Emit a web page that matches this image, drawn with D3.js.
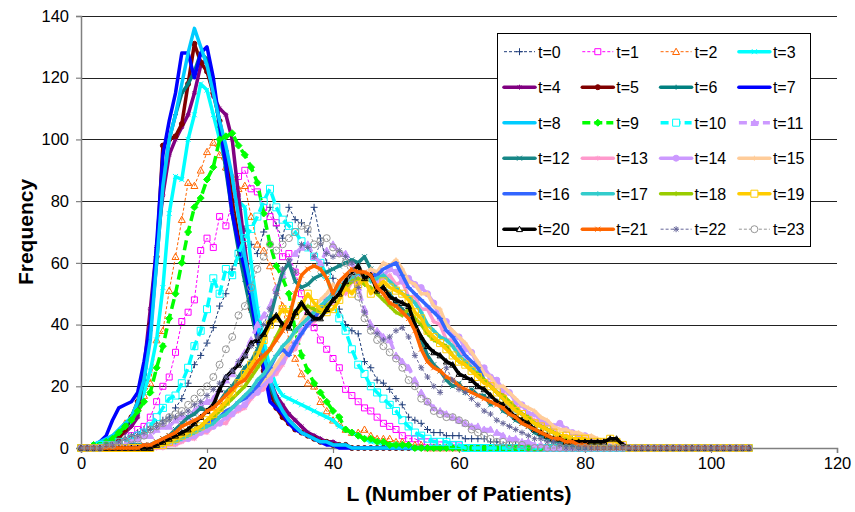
<!DOCTYPE html>
<html>
<head>
<meta charset="utf-8">
<script src="https://cdnjs.cloudflare.com/ajax/libs/d3/7.8.5/d3.min.js"></script>
<style>
body { margin:0; background:#fff; }
svg { display:block; font-family: Arial, "Liberation Sans", sans-serif; }
</style>
</head>
<body>
<div id="chart"></div>
<script>
// Frequency of L (number of patients), one array per t, starting at L = 0
var t0 = [0,0,0,1,1,1,2,3,4,5,6,7,8,9,10,13,16,21,27,30,34,39,46,50,58,64,71,66,63,70,78,72,68,78,74,73,70,78,68,60,55,45,40,38,37,28,26,22,21,19,16,14,10,9,8,6,5,5,4,4,4,3,3,3,3,2,2,1,1,1,1];
var t1 = [0,0,0,0,1,1,2,2,4,6,7,10,15,20,23,31,41,44,48,64,68,65,75,72,80,88,90,84,83,78,75,73,62,63,57,50,43,39,35,32,29,26,19,17,15,13,12,10,8,7,6,4,3,3,2,2,2,1,1,1,1];
var t2 = [0,0,0,1,1,2,4,8,10,13,17,21,35,38,51,62,74,86,85,90,96,99,95,91,88,84,85,75,66,64,59,52,46,35,29,24,21,20,15,12,9,8,6,5,5,6,4,3,3,3,2,2,1,1,1];
var t3 = [0,0,1,1,2,3,4,6,8,12,18,25,35,52,76,88,87,100,108,118,116,108,100,92,85,80,78,60,45,35,26,20,17,16,15,14,13,12,11,10,9,7,6,5,4,3,2,2,1,1,1];
var t4 = [0,0,1,1,2,3,4,5,7,10,26,45,65,82,95,100,104,108,115,124,126,114,110,108,100,82,65,50,40,30,22,17,14,11,9,7,5,4,3,2,2,1,1];
var t5 = [0,0,0,1,1,2,3,6,10,15,24,40,62,98,100,101,105,118,131,125,122,115,106,96,80,68,56,45,35,25,18,13,10,8,6,5,4,3,2,2,1,1,1];
var t6 = [0,0,1,1,2,3,5,7,10,14,22,38,60,85,100,108,115,118,122,128,126,118,104,90,76,64,54,44,35,27,20,15,12,9,7,5,4,3,2,2,1,1,1];
var t7 = [0,0,1,2,4,9,13,14,15,18,28,40,66,95,106,115,128,128,120,128,130,120,105,92,76,66,58,48,36,26,15,13,11,8,6,5,4,3,2,1,1];
var t8 = [0,0,1,2,3,4,6,8,10,15,22,35,60,85,100,108,118,128,136,130,124,115,106,98,88,75,62,52,40,30,22,16,12,9,7,5,4,3,2,2,1,1,1];
var t9 = [0,0,1,1,2,3,5,7,9,12,15,18,26,33,42,50,60,70,78,81,87,91,100,101,102,98,95,91,86,76,66,59,55,50,38,30,25,21,18,15,12,10,6,5,4,3,3,2,2,1,1,1,1];
var t10 = [0,0,0,1,1,1,2,2,3,4,5,7,10,13,16,17,21,26,33,38,45,55,50,58,56,63,68,71,75,80,84,78,74,72,70,67,65,62,60,56,48,42,38,32,27,24,20,18,16,14,12,9,7,5,4,3,2,2,2,1,1];
var t11 = [0,0,0,0,0,1,1,1,2,3,4,4,6,7,7,9,10,10,12,14,15,16,19,22,24,28,31,35,40,43,46,52,56,60,63,65,66,62,60,64,66,63,63,60,52,45,40,38,36,35,30,28,26,22,18,15,13,12,11,10,9,8,7,7,6,6,5,4,3,3,2,2,1,1];
var t12 = [0,0,0,0,0,0,0,0,1,1,1,1,2,3,4,6,8,10,11,13,12,14,15,18,20,23,26,28,32,36,42,50,57,60,54,52,53,55,56,57,58,59,60,61,60,62,58,55,52,50,47,45,43,40,35,30,27,25,22,20,21,18,19,17,17,14,15,12,11,9,8,7,5,4,3,2,2,1,1];
var t13 = [0,0,0,0,0,0,0,0,0,0,0,0,0,0,1,1,2,3,3,5,5,7,8,8,11,12,13,16,18,19,23,24,27,31,32,37,40,41,45,47,47,51,50,54,53,56,57,54,55,56,53,54,49,49,45,45,41,40,35,35,31,30,26,26,22,21,18,18,14,14,11,10,9,8,6,6,4,4,3,2,2,1,1];
var t14 = [0,0,0,0,0,0,0,0,0,0,0,0,1,1,2,2,3,3,4,5,6,7,8,10,11,13,14,17,18,21,22,26,28,32,34,38,40,44,45,48,50,53,53,55,56,54,57,54,56,58,57,54,55,53,52,50,47,42,41,37,36,32,31,27,26,23,22,19,18,15,14,11,11,9,8,7,8,6,5,4,4,3,2,2,2,1,1];
var t15 = [0,0,0,0,0,0,0,0,0,0,0,0,1,1,2,2,3,4,5,6,7,8,10,12,13,15,17,18,20,22,24,27,30,34,38,41,44,46,48,50,53,52,56,55,58,55,58,57,60,59,61,58,54,53,50,50,46,45,40,38,36,34,31,28,24,23,20,20,18,16,14,13,12,10,9,7,6,6,5,5,4,4,3,2,2,1];
var t16 = [0,0,0,0,0,0,0,0,0,0,1,1,2,2,3,3,4,5,6,7,8,9,10,12,13,15,16,18,20,23,26,30,32,30,34,37,40,42,45,48,50,52,54,55,57,55,56,56,58,59,60,56,52,50,48,46,44,42,38,36,33,30,28,26,22,20,18,16,14,12,11,9,8,7,6,5,4,3,3,2,2,1,1];
var t17 = [0,0,0,0,0,0,0,0,0,0,0,0,1,1,2,2,3,4,5,6,7,8,10,11,13,15,17,19,22,24,27,30,33,35,38,40,42,44,46,48,50,52,54,55,57,56,54,55,56,54,52,50,49,47,44,40,38,36,35,33,30,28,26,24,22,20,18,16,14,12,11,9,8,7,6,5,4,3,3,2,2,1,1];
var t18 = [0,0,0,0,0,0,0,0,0,0,0,0,1,1,2,3,4,5,6,7,9,10,12,14,16,18,20,23,26,29,32,36,40,42,43,45,46,45,44,46,48,50,52,54,55,53,52,50,48,46,44,43,45,42,40,37,35,34,33,30,28,27,25,24,22,20,18,17,15,13,11,10,8,7,6,5,4,3,3,2,2,1,1];
var t19 = [0,0,0,0,0,0,0,0,0,0,0,0,1,1,2,3,4,5,6,7,9,11,13,15,18,21,24,27,30,35,40,42,45,44,43,46,50,47,45,44,45,48,52,50,53,55,50,52,54,52,51,50,48,44,42,38,36,34,32,30,28,27,25,23,21,20,18,16,14,12,11,9,8,7,6,5,4,4,3,3,3,2,2,2,3,2,1];
var t20 = [0,0,0,0,0,0,0,0,0,0,0,0,1,2,3,4,5,6,8,10,12,14,19,23,25,27,30,34,35,37,41,43,40,39,44,47,44,42,42,45,48,50,54,57,59,55,56,51,52,49,48,47,46,40,36,33,31,30,28,27,24,23,22,20,19,17,15,14,12,10,9,8,6,5,4,3,3,2,2,2,2,2,2,2,3,3,1];
var t21 = [0,0,0,0,0,0,0,0,0,0,1,1,2,3,4,5,7,8,9,10,12,13,15,17,19,21,22,25,28,30,32,35,38,42,50,56,58,59,58,55,50,54,56,58,57,57,56,52,50,47,46,44,42,38,32,28,26,25,23,22,20,19,18,17,16,15,14,13,11,10,8,7,6,5,4,3,3,2,2,1,1];
var t22 = [0,0,0,0,1,1,2,3,4,4,5,6,7,8,9,10,11,12,14,15,17,19,21,23,25,28,30,33,36,40,45,50,58,61,57,66,65,62,66,63,62,64,62,60,52,44,39,37,35,36,38,39,36,30,26,23,20,18,26,22,19,18,16,14,12,11,9,8,7,6,5,4,3,3,2,2,1];
var t23 = [0,0,0,0,1,1,2,2,3,3,4,6,7,8,10,11,12,14,16,18,20,23,27,32,36,43,46,52,58,62,66,64,66,68,70,72,71,66,67,68,65,63,60,55,49,42,38,35,33,31,29,26,22,20,16,15,12,11,10,10,9,8,6,5,4,3,2,2,1,1,1];

var seriesNames = ["t=0","t=1","t=2","t=3","t=4","t=5","t=6","t=7","t=8","t=9","t=10","t=11",
                   "t=12","t=13","t=14","t=15","t=16","t=17","t=18","t=19","t=20","t=21","t=22","t=23"];
var xTicks = [0,20,40,60,80,100,120];
var yTicks = [0,20,40,60,80,100,120,140];
var lastL = 106; // every series runs on at zero up to here

// line look per series
var styles = [
  {c:"#1f3d7a", w:1,   dash:"3,2",  m:"plus",     r:3.5},
  {c:"#ff00ff", w:1,   dash:"3,2",  m:"square",   r:3},
  {c:"#ff6600", w:1,   dash:"3,2",  m:"triangle", r:3.5},
  {c:"#00ffff", w:3.5, m:"x",        r:2.5},
  {c:"#800080", w:3.5, m:"star",     r:2.5},
  {c:"#800000", w:3.5, m:"dot",      r:2.5},
  {c:"#008080", w:3.5, m:"plus",     r:2.5},
  {c:"#0000ff", w:3.5},
  {c:"#00ccff", w:3.5},
  {c:"#00ff00", w:3.5, dash:"10,5", m:"diamond",  r:3.5},
  {c:"#00ffff", w:3.5, dash:"10,5", m:"square",   r:3.5},
  {c:"#cc99ff", w:3.5, dash:"10,5", m:"trifill",  r:3.5},
  {c:"#178787", w:3.5, m:"x",        r:2.5},
  {c:"#ff99cc", w:3.5, m:"star",     r:2.5},
  {c:"#cc99ff", w:3.5, m:"dot",      r:3},
  {c:"#ffcc99", w:3.5, m:"plus",     r:2.5},
  {c:"#3366ff", w:3.5, m:"dash",     r:3},
  {c:"#33cccc", w:3.5, m:"plus",     r:2.5},
  {c:"#99cc00", w:3.5, m:"plus",     r:2.5},
  {c:"#ffcc00", w:3.5, m:"square",   r:3.5},
  {c:"#000000", w:3.5, m:"triangle", r:3},
  {c:"#ff6600", w:3.5, m:"x",        r:2.5},
  {c:"#666699", w:1,   dash:"3,2",  m:"star",     r:3},
  {c:"#969696", w:1,   dash:"3,2",  m:"circle",   r:3.5}
];

var raw = [t0,t1,t2,t3,t4,t5,t6,t7,t8,t9,t10,t11,t12,t13,t14,t15,t16,t17,t18,t19,t20,t21,t22,t23];
var series = raw.map(function(arr, i){
  var pts = [];
  for (var L = 0; L <= lastL; L++) pts.push({x: L, y: L < arr.length ? arr[L] : 0});
  return {name: seriesNames[i], st: styles[i], pts: pts};
});

var W = 855, H = 512;
var margin = {top: 16, right: 18, bottom: 64, left: 81};
var width = W - margin.left - margin.right,
    height = H - margin.top - margin.bottom;

var x = d3.scaleLinear().domain([0,120]).range([0, width]);
var y = d3.scaleLinear().domain([0,140]).range([height, 0]);

var svg = d3.select("#chart").append("svg")
  .attr("width", W).attr("height", H);

var g = svg.append("g")
  .attr("transform", "translate(" + margin.left + "," + margin.top + ")");

// gridlines
g.append("g").selectAll("line")
  .data(yTicks.filter(function(d){ return d > 0; }))
  .enter().append("line")
  .attr("x1", 0).attr("x2", width)
  .attr("y1", function(d){ return Math.round(y(d)) + 0.5; })
  .attr("y2", function(d){ return Math.round(y(d)) + 0.5; })
  .attr("stroke", "#222").attr("stroke-width", 1);

// axes
var xAxis = d3.axisBottom(x).tickValues(xTicks).tickSize(5).tickPadding(4);
var yAxis = d3.axisLeft(y).tickValues(yTicks).tickSize(5).tickPadding(7);

var gx = g.append("g")
  .attr("transform", "translate(0," + height + ")")
  .call(xAxis);
var gy = g.append("g").call(yAxis);

[gx, gy].forEach(function(a){
  a.select(".domain").attr("stroke", "#808080").attr("stroke-width", 1.5);
  a.selectAll(".tick line").attr("stroke", "#808080").attr("stroke-width", 1.2);
  a.selectAll("text").attr("fill", "#000").style("font-size", "16.5px")
    .style("font-family", "Arial, 'Liberation Sans', sans-serif");
});

// marker shapes
function markerPath(type, r) {
  switch (type) {
    case "plus": return "M" + (-r) + ",0H" + r + "M0," + (-r) + "V" + r;
    case "x": return "M" + (-r) + "," + (-r) + "L" + r + "," + r + "M" + (-r) + "," + r + "L" + r + "," + (-r);
    case "star": return markerPath("plus", r) + markerPath("x", r * 0.75);
    case "dash": return "M" + (-r) + ",0H" + r;
    case "square": return "M" + (-r) + "," + (-r) + "H" + r + "V" + r + "H" + (-r) + "Z";
    case "triangle":
    case "trifill": return "M0," + (-r) + "L" + r + "," + (r * 0.8) + "H" + (-r) + "Z";
    case "diamond": return "M0," + (-r) + "L" + r + ",0L0," + r + "L" + (-r) + ",0Z";
    case "circle":
    case "dot": return "M" + r + ",0A" + r + "," + r + " 0 1,1 " + (-r) + ",0A" + r + "," + r + " 0 1,1 " + r + ",0Z";
  }
  return "";
}
function markerFill(st) {
  if (st.m === "diamond" || st.m === "dot" || st.m === "trifill") return st.c;
  return "none";
}

var line = d3.line()
  .x(function(d){ return x(d.x); })
  .y(function(d){ return y(d.y); });

var plot = g.append("g");

series.forEach(function(s){
  var sg = plot.append("g");
  sg.append("path")
    .datum(s.pts)
    .attr("d", line)
    .attr("fill", "none")
    .attr("stroke", s.st.c)
    .attr("stroke-width", s.st.w)
    .attr("stroke-dasharray", s.st.dash || null)
    .attr("stroke-linejoin", "round")
    .attr("stroke-linecap", s.st.dash ? "butt" : "round");
  if (s.st.m) {
    sg.selectAll("path.mk")
      .data(s.pts)
      .enter().append("path")
      .attr("class", "mk")
      .attr("transform", function(d){ return "translate(" + x(d.x) + "," + y(d.y) + ")"; })
      .attr("d", markerPath(s.st.m, s.st.r))
      .attr("fill", markerFill(s.st))
      .attr("stroke", s.st.c)
      .attr("stroke-width", 1);
  }
});

// axis titles
svg.append("text")
  .attr("x", margin.left + x(60)).attr("y", 501)
  .attr("text-anchor", "middle")
  .style("font-size", "21px").style("font-weight", "bold")
  .text("L (Number of Patients)");

svg.append("text")
  .attr("transform", "translate(33," + (margin.top + y(70)) + ") rotate(-90)")
  .attr("text-anchor", "middle")
  .style("font-size", "21px").style("font-weight", "bold")
  .text("Frequency");

// legend
var legend = svg.append("g");
legend.append("rect")
  .attr("x", 497.5).attr("y", 33.5).attr("width", 313).attr("height", 213)
  .attr("fill", "#fff").attr("stroke", "#000").attr("stroke-width", 1);

series.forEach(function(s, i){
  var col = i % 4, row = Math.floor(i / 4);
  var lx = 504 + col * 78.3, ly = 51.7 + row * 35.5;
  var lg = legend.append("g").attr("transform", "translate(" + lx + "," + ly + ")");
  lg.append("line")
    .attr("x1", 0).attr("x2", 31).attr("y1", 0).attr("y2", 0)
    .attr("stroke", s.st.c).attr("stroke-width", s.st.w)
    .attr("stroke-dasharray", s.st.dash ? (s.st.w > 2 ? "8,4" : "3,2") : null)
    .attr("stroke-linecap", s.st.dash ? "butt" : "round");
  if (s.st.m) {
    lg.append("path")
      .attr("transform", "translate(15.5,0)")
      .attr("d", markerPath(s.st.m, s.st.r))
      .attr("fill", s.st.m === "square" || s.st.m === "triangle" || s.st.m === "circle" ? "#fff" : markerFill(s.st))
      .attr("stroke", s.st.c).attr("stroke-width", 1);
  }
  lg.append("text")
    .attr("x", 34).attr("y", 6)
    .style("font-size", "16px")
    .text(s.name);
});
</script>
</body>
</html>
